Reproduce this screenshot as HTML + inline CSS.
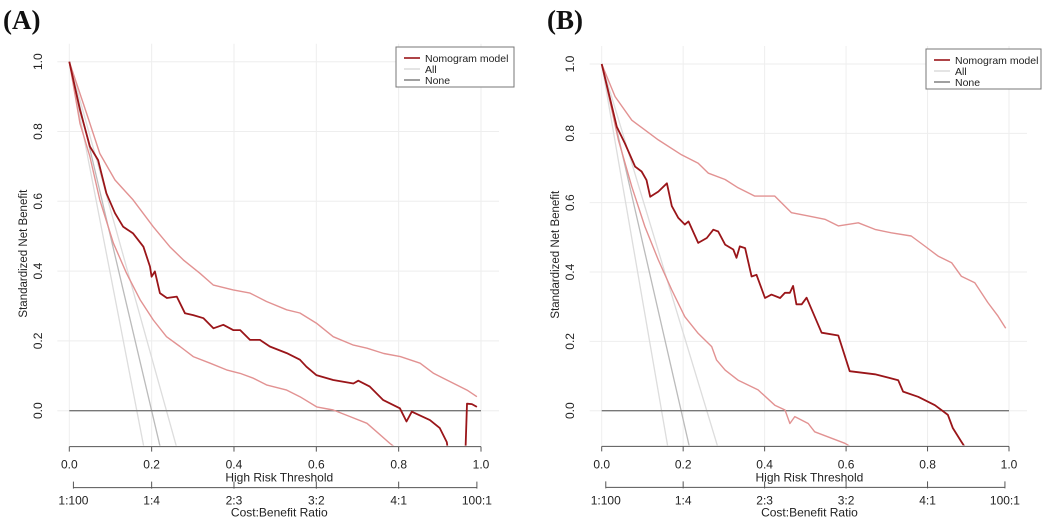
<!DOCTYPE html>
<html><head><meta charset="utf-8"><style>
html,body{margin:0;padding:0;background:#fff;}
svg{display:block;font-family:"Liberation Sans",sans-serif;}
</style></head><body>
<svg id="chart" width="1049" height="528" viewBox="0 0 1049 528"></svg>
<script>
const xTicks=[0,0.2,0.4,0.6,0.8,1.0];
const xTickLabels=["0.0","0.2","0.4","0.6","0.8","1.0"];
const yTicks=[0,0.2,0.4,0.6,0.8,1.0];
const yTickLabels=["0.0","0.2","0.4","0.6","0.8","1.0"];
const costLabels=["1:100","1:4","2:3","3:2","4:1","100:1"];
const costPos=[0.01,0.2,0.4,0.6,0.8,0.99];
const legendLabels=["Nomogram model","All","None"];

const aModelX=[0,0.026,0.05,0.07,0.09,0.111,0.131,0.155,0.18,0.196,0.2,0.208,0.22,0.237,0.261,0.281,0.301,0.326,0.35,0.374,0.398,0.415,0.439,0.463,0.487,0.528,0.56,0.576,0.6,0.641,0.69,0.702,0.73,0.762,0.803,0.819,0.832,0.876,0.9,0.917,0.93,0.96,0.966,0.978,0.99];
const aModelY=[1,0.862,0.757,0.718,0.623,0.566,0.527,0.508,0.47,0.413,0.384,0.399,0.337,0.323,0.327,0.279,0.274,0.265,0.236,0.246,0.231,0.231,0.203,0.203,0.184,0.165,0.146,0.126,0.102,0.088,0.078,0.086,0.069,0.031,0.007,-0.031,-0.003,-0.027,-0.05,-0.09,-0.2,-0.2,0.02,0.019,0.011];
const aUpperX=[0,0.042,0.074,0.111,0.155,0.204,0.244,0.277,0.317,0.35,0.398,0.439,0.479,0.528,0.56,0.6,0.641,0.69,0.723,0.764,0.804,0.852,0.885,0.917,0.966,0.99];
const aUpperY=[1,0.852,0.737,0.661,0.604,0.527,0.47,0.432,0.394,0.36,0.346,0.337,0.313,0.289,0.28,0.251,0.212,0.188,0.179,0.164,0.155,0.136,0.107,0.088,0.059,0.04];
const aLowerX=[0,0.026,0.05,0.074,0.107,0.139,0.172,0.204,0.236,0.269,0.301,0.342,0.382,0.415,0.447,0.479,0.528,0.56,0.601,0.641,0.682,0.723,0.779,0.82];
const aLowerY=[1,0.823,0.728,0.604,0.48,0.394,0.318,0.26,0.212,0.184,0.155,0.136,0.117,0.107,0.093,0.074,0.059,0.04,0.011,0.002,-0.017,-0.036,-0.094,-0.13];
const aAllZero=[0.164,0.2,0.236];

const bModelX=[0,0.037,0.057,0.082,0.098,0.11,0.119,0.139,0.16,0.172,0.188,0.204,0.213,0.237,0.258,0.274,0.286,0.303,0.323,0.331,0.339,0.352,0.368,0.38,0.401,0.417,0.438,0.45,0.462,0.47,0.478,0.491,0.503,0.54,0.581,0.609,0.671,0.728,0.74,0.777,0.818,0.85,0.862,0.883,0.9];
const bModelY=[1,0.819,0.771,0.704,0.69,0.665,0.617,0.632,0.656,0.59,0.556,0.537,0.546,0.484,0.498,0.522,0.517,0.479,0.465,0.441,0.474,0.469,0.387,0.392,0.325,0.335,0.325,0.34,0.34,0.36,0.307,0.307,0.326,0.225,0.217,0.114,0.105,0.088,0.055,0.04,0.016,-0.012,-0.05,-0.089,-0.12];
const bUpperX=[0,0.033,0.074,0.139,0.196,0.237,0.262,0.303,0.335,0.376,0.425,0.466,0.507,0.548,0.581,0.63,0.671,0.711,0.76,0.793,0.826,0.859,0.883,0.916,0.948,0.973,0.992];
const bUpperY=[1,0.906,0.838,0.781,0.738,0.714,0.685,0.667,0.643,0.619,0.619,0.571,0.562,0.552,0.533,0.542,0.523,0.513,0.504,0.475,0.446,0.427,0.388,0.369,0.312,0.273,0.238];
const bLowerX=[0,0.041,0.074,0.106,0.139,0.172,0.204,0.237,0.27,0.282,0.303,0.335,0.384,0.425,0.45,0.462,0.474,0.507,0.523,0.597,0.62];
const bLowerY=[1,0.781,0.646,0.531,0.435,0.348,0.271,0.223,0.185,0.146,0.117,0.088,0.06,0.016,0.002,-0.037,-0.017,-0.037,-0.061,-0.094,-0.11];
const bAllZero=[0.147,0.195,0.258];

const NS="http://www.w3.org/2000/svg";
const svg=document.getElementById('chart');
function mk(tag,attrs,parent){const e=document.createElementNS(NS,tag);for(const k in attrs)e.setAttribute(k,attrs[k]);(parent||svg).appendChild(e);return e;}

function panel(cfg){
  const g=mk('g',{});
  
  
  const sx=v=>cfg.x0+v*(cfg.x1-cfg.x0);
  const Y=v=>cfg.yZero-v*(cfg.yZero-cfg.yOne);
  const t=mk('text',{x:cfg.labelX,y:29,'font-family':'"Liberation Serif",serif','font-weight':'bold','font-size':'27',fill:'#111'},g);
  t.textContent='('+cfg.id.toUpperCase()+')';
  
  
  const cid='clip'+cfg.id;
  const cp=mk('clipPath',{id:cid},g);
  mk('rect',{x:cfg.x0-15,y:cfg.yOne-20,width:cfg.x1-cfg.x0+30,height:Y(-0.1)-cfg.yOne+20},cp);
  const grid=mk('g',{stroke:'#eeeeee','stroke-width':'1'},g);
  
  
  xTicks.forEach(v=>mk('line',{x1:sx(v),x2:sx(v),y1:cfg.yOne-18,y2:Y(-0.1)},grid));
  yTicks.forEach(v=>mk('line',{x1:cfg.x0-12,x2:cfg.x1+18,y1:Y(v),y2:Y(v)},grid));
  yTicks.forEach((v,i)=>{const tx=mk('text',{x:0,y:0,'font-size':'12',fill:'#222','text-anchor':'middle',transform:`translate(${cfg.yLabX},${Y(v)}) rotate(-90)`},g);tx.textContent=yTickLabels[i];
    });
  const yt=mk('text',{x:0,y:0,'font-size':'11.5',fill:'#222','text-anchor':'middle',transform:`translate(${cfg.yTitleX},${Y(0.45)}) rotate(-90)`},g);
  yt.textContent='Standardized Net Benefit';
  
  const plot=mk('g',{'clip-path':`url(#${cid})`,fill:'none'},g);
  const allCols=['#dddddd','#bbbbbb','#dddddd'];
  cfg.allZero.forEach((z,i)=>{const l=mk('line',{x1:sx(0),y1:Y(1),x2:sx(z*1.15),y2:Y(-0.15),stroke:allCols[i],'stroke-width':'1.3'},plot);
    });
  const none=mk('line',{x1:sx(0),x2:sx(1),y1:Y(0),y2:Y(0),stroke:'#777','stroke-width':'1.4'},plot);
  
  function path(xs,ys,col,w,name){const d=xs.map((x,i)=>(i?'L':'M')+sx(x).toFixed(1)+','+Y(ys[i]).toFixed(1)).join('');
    const p=mk('path',{d:d,stroke:col,'stroke-width':w,'stroke-linejoin':'round'},plot);
    }
  path(cfg.upX,cfg.upY,'#e29292','1.4','model-upper-ci');
  path(cfg.loX,cfg.loY,'#e29292','1.4','model-lower-ci');
  path(cfg.mX,cfg.mY,'#9a1519','1.8','nomogram-model-line');
  const ax=mk('g',{stroke:'#555','stroke-width':'1'},g);
  
  const ay=Y(-0.1)+1;
  mk('line',{x1:sx(0),x2:sx(1),y1:ay,y2:ay},ax);
  xTicks.forEach(v=>mk('line',{x1:sx(v),x2:sx(v),y1:ay,y2:ay+5},ax));
  xTicks.forEach((v,i)=>{const tx=mk('text',{x:sx(v),y:ay+22,'font-size':'12',fill:'#222','text-anchor':'middle'},g);tx.textContent=xTickLabels[i];
    });
  const xt=mk('text',{x:sx(0.51),y:ay+35,'font-size':'12',fill:'#222','text-anchor':'middle'},g);xt.textContent='High Risk Threshold';
  
  const cy=ay+41;
  const cax=mk('g',{stroke:'#555','stroke-width':'1'},g);
  
  mk('line',{x1:sx(0.01),x2:sx(0.99),y1:cy,y2:cy},cax);
  costPos.forEach(v=>mk('line',{x1:sx(v),x2:sx(v),y1:cy-6,y2:cy+1},cax));
  costPos.forEach((v,i)=>{const tx=mk('text',{x:sx(v),y:cy+17,'font-size':'12',fill:'#222','text-anchor':'middle'},g);tx.textContent=costLabels[i];
    });
  const ct=mk('text',{x:sx(0.51),y:cy+29,'font-size':'12',fill:'#222','text-anchor':'middle'},g);ct.textContent='Cost:Benefit Ratio';
  
  const lg=mk('g',{},g);
  
  mk('rect',{x:cfg.lx,y:cfg.ly,width:cfg.lw,height:40,fill:'#fff',stroke:'#777','stroke-width':'1'},lg);
  const lc=['#9a1519','#dddddd','#888'];
  legendLabels.forEach((s,i)=>{const yy=cfg.ly+11+i*11;
    mk('line',{x1:cfg.lx+8,x2:cfg.lx+24,y1:yy,y2:yy,stroke:lc[i],'stroke-width':'1.6'},lg);
    const tx=mk('text',{x:cfg.lx+29,y:yy+4,'font-size':'10.5',fill:'#222'},lg);tx.textContent=s;
    });
}
panel({id:'a',labelX:3,x0:69.3,x1:481,yOne:61.7,yZero:410.7,yLabX:42,yTitleX:27,lx:396,ly:47,lw:118,
  mX:aModelX,mY:aModelY,upX:aUpperX,upY:aUpperY,loX:aLowerX,loY:aLowerY,allZero:aAllZero});
panel({id:'b',labelX:547,x0:601.7,x1:1009,yOne:64,yZero:410.7,yLabX:574,yTitleX:559,lx:926,ly:49,lw:115,
  mX:bModelX,mY:bModelY,upX:bUpperX,upY:bUpperY,loX:bLowerX,loY:bLowerY,allZero:bAllZero});
</script>
</body></html>
